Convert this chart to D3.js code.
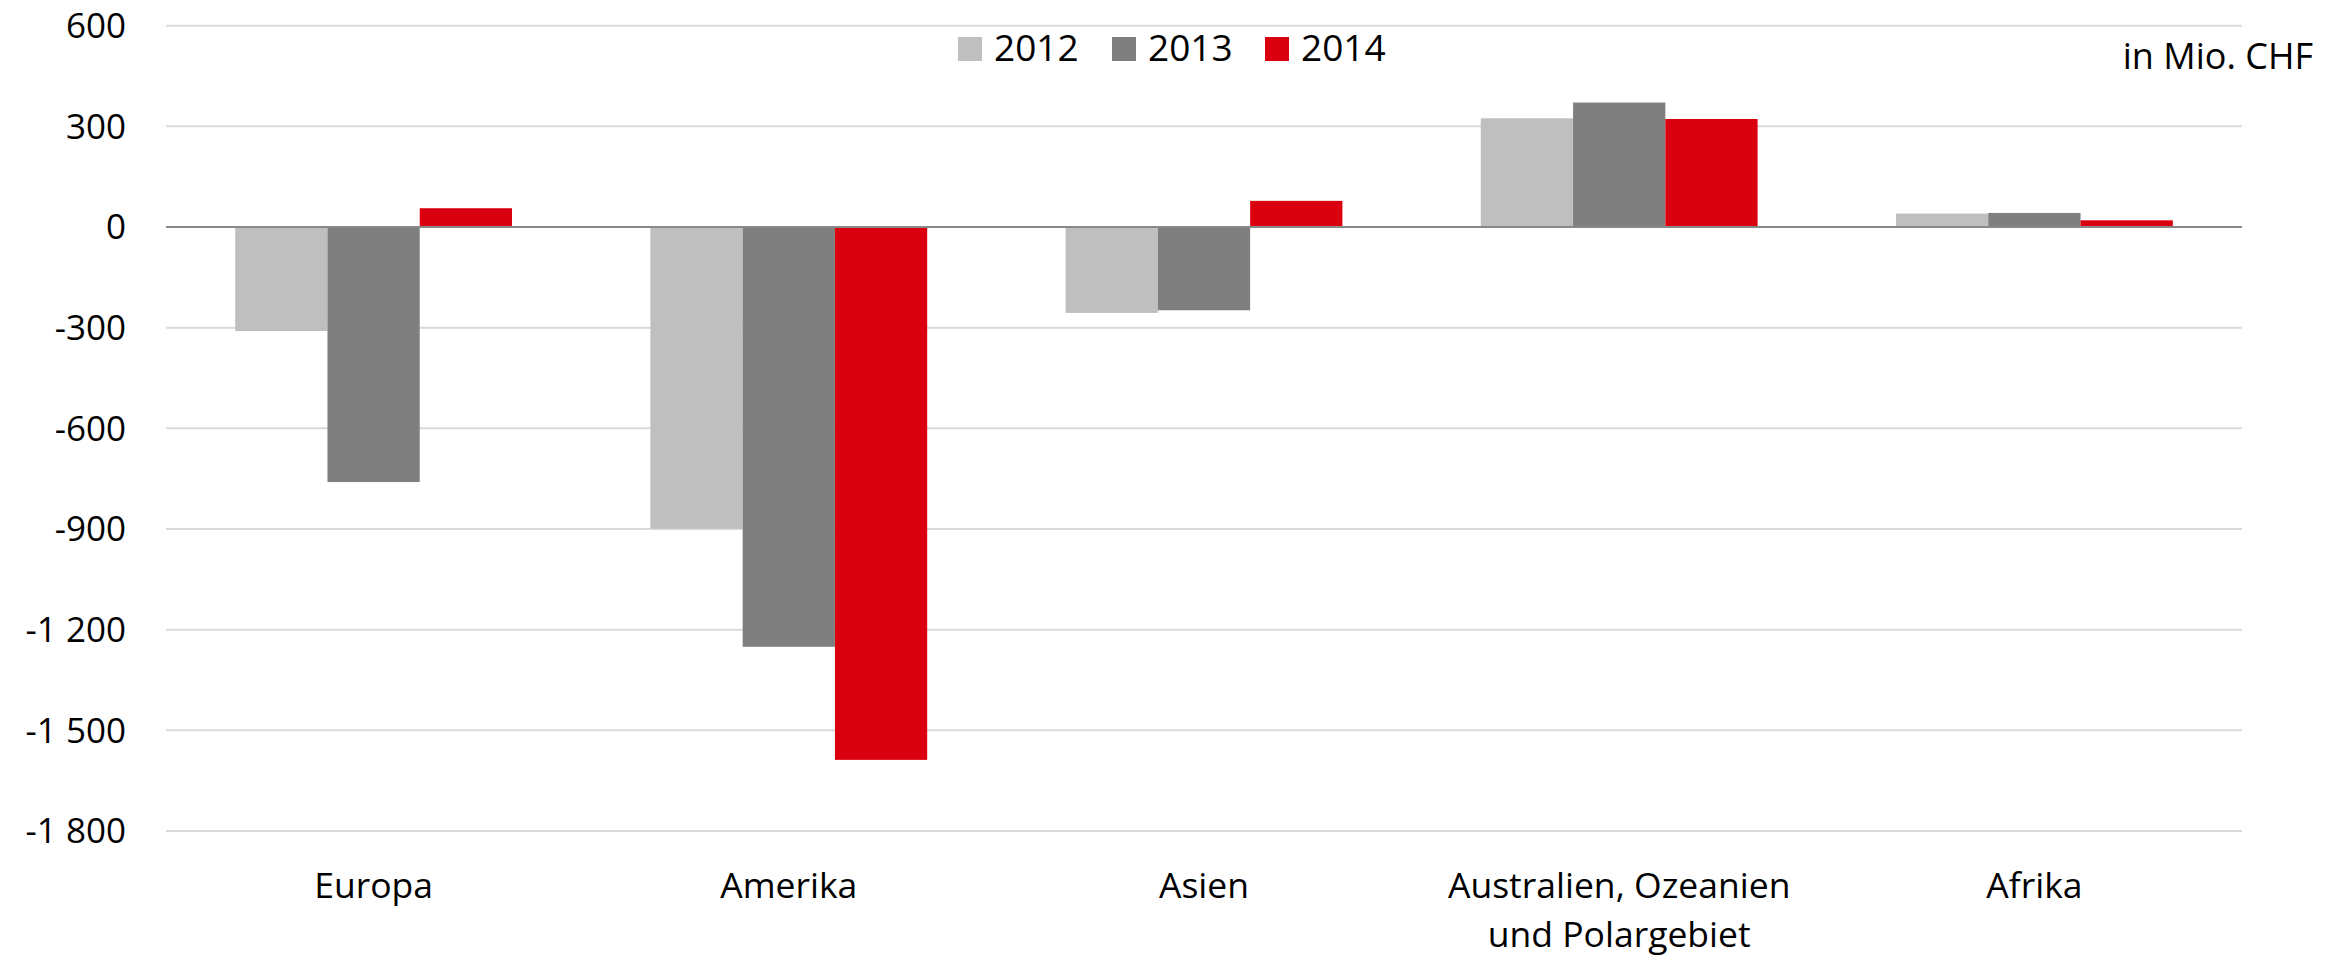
<!DOCTYPE html>
<html><head><meta charset="utf-8">
<script src="https://cdn.jsdelivr.net/npm/d3@7"></script>
<style>
html,body{margin:0;padding:0;background:#fff;}
text{font-family:"Open Sans",sans-serif;fill:#000;}
</style></head>
<body>
<svg id="chart" width="2343" height="956"></svg>
<script>
const categories = ["Europa", "Amerika", "Asien", "Australien, Ozeanien\nund Polargebiet", "Afrika"];
const seriesNames = ["2012", "2013", "2014"];
const values2012 = [-310, -899, -256, 324, 40];
const values2013 = [-760, -1251, -248, 371, 42];
const values2014 = [56, -1588, 78, 322, 20];
const seriesColors = ["#bfbfbf", "#7f7f7f", "#da0010"];
const yTicks = [600, 300, 0, -300, -600, -900, -1200, -1500, -1800];
const unitLabel = "in Mio. CHF";

(function () {
const seriesValues = [values2012, values2013, values2014];
const svg = d3.select("#chart");
const pLeft = 166, pRight = 2242, pTop = 25.7, pBottom = 831;

const bandW = (pRight - pLeft) / categories.length;
const barW = bandW / (3 + 1.5);
const y = d3.scaleLinear().domain([-1800, 600]).range([pBottom, pTop]);
const fmt = d3.formatLocale({decimal: ",", thousands: " ", grouping: [3], currency: ["", ""], minus: "-"}).format(",d");

// gridlines
svg.append("g").selectAll("line").data(yTicks.filter(d => d !== 0)).join("line")
  .attr("x1", pLeft).attr("x2", pRight)
  .attr("y1", d => y(d)).attr("y2", d => y(d))
  .attr("stroke", "#d9d9d9").attr("stroke-width", 2);

// y axis labels
const yAxis = d3.axisLeft(y).tickValues(yTicks).tickFormat(fmt).tickSize(0).tickPadding(0);
const ga = svg.append("g").attr("transform", `translate(126,0)`).call(yAxis);
ga.select(".domain").remove();
ga.selectAll("text").attr("font-size", 35).attr("font-family", "Open Sans").attr("fill", "#000").attr("dy", "0.34em");

// bars
const groupCenter = c => pLeft + bandW * (categories.indexOf(c) + 0.5);
seriesValues.forEach((vals, si) => {
  svg.append("g").selectAll("rect").data(vals).join("rect")
    .attr("x", (d, i) => groupCenter(categories[i]) - 1.5 * barW + si * barW)
    .attr("width", barW)
    .attr("y", d => y(Math.max(0, d)))
    .attr("height", d => Math.abs(y(d) - y(0)))
    .attr("fill", seriesColors[si]);
});

// zero line
svg.append("line").attr("x1", pLeft).attr("x2", pRight).attr("y1", y(0)).attr("y2", y(0))
  .attr("stroke", "#898989").attr("stroke-width", 2);

// x labels
const xl = svg.append("g").selectAll("text").data(categories).join("text")
  .attr("text-anchor", "middle").attr("font-size", 35.5)
  .attr("x", d => groupCenter(d)).attr("y", 898);
xl.each(function(d) {
  const lines = d.split("\n");
  const t = d3.select(this);
  lines.forEach((l, i) => t.append("tspan").attr("x", groupCenter(d)).attr("dy", i === 0 ? 0 : 49).text(l));
});

// legend
const legendX = [958, 1112, 1265];
seriesNames.forEach((s, i) => {
  svg.append("rect").attr("x", legendX[i]).attr("y", 37).attr("width", 24).attr("height", 24).attr("fill", seriesColors[i]);
  svg.append("text").attr("x", legendX[i] + 36).attr("y", 61).attr("font-size", 37).text(s);
});

// unit label
svg.append("text").attr("x", 2313).attr("y", 69).attr("text-anchor", "end").attr("font-size", 36).text(unitLabel);
})();
</script>
</body></html>
